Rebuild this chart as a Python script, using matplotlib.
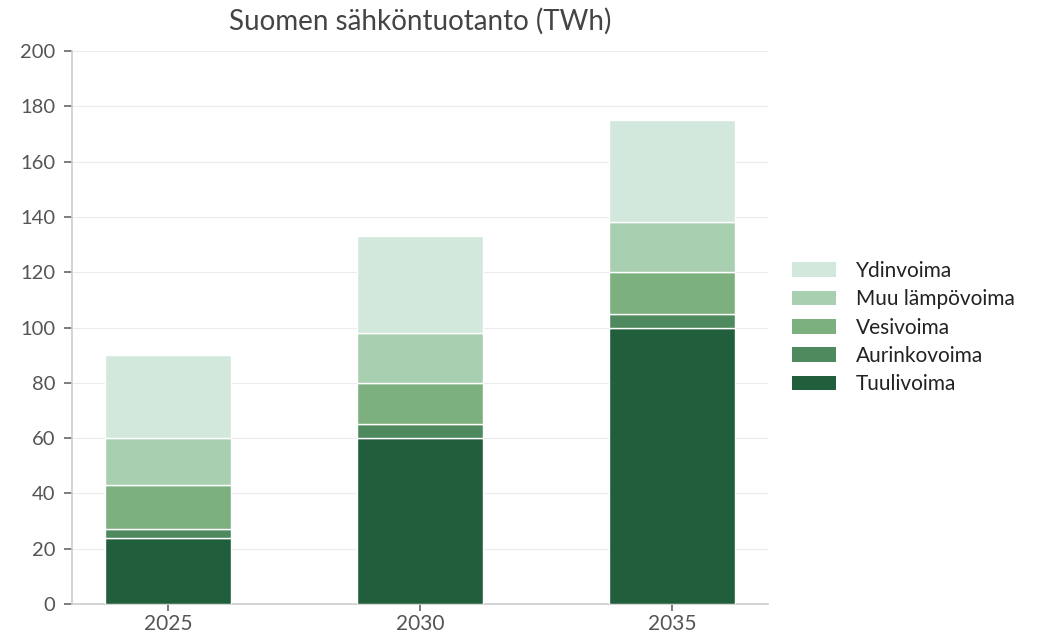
import matplotlib
matplotlib.use("Agg")
import matplotlib.pyplot as plt
import numpy as np
from matplotlib.patches import Patch

plt.rcParams['font.family'] = ['Lato', 'DejaVu Sans']

years = ["2025", "2030", "2035"]
series_names = ["Tuulivoima", "Aurinkovoima", "Vesivoima", "Muu lämpövoima", "Ydinvoima"]
tuulivoima = [24, 60, 100]
aurinkovoima = [3, 5, 5]
vesivoima = [16, 15, 15]
muu_lampovoima = [17, 18, 18]
ydinvoima = [30, 35, 37]
colors = ["#215e3b", "#4e8a5e", "#7db07f", "#a8cfb0", "#d3e8dc"]

data = [tuulivoima, aurinkovoima, vesivoima, muu_lampovoima, ydinvoima]

fig = plt.figure(figsize=(10.38, 6.41), dpi=100)
ax = fig.add_axes([0.0694, 0.0577, 0.6705, 0.8627])

x = np.arange(len(years))
bottom = np.zeros(len(years))
for name, vals, c in zip(series_names, data, colors):
    ax.bar(x, vals, width=0.5, bottom=bottom, color=c, edgecolor="white",
           linewidth=1.0, label=name, zorder=3)
    bottom += np.array(vals)

ax.set_xlim(-0.38, 2.38)
ax.set_ylim(0, 200)
ax.set_yticks(range(0, 201, 20))
ax.set_xticks(x)
ax.set_xticklabels(years)
ax.grid(axis="y", color="#ececec", linewidth=0.8, zorder=0)
for s in ["top", "right"]:
    ax.spines[s].set_visible(False)
for s in ["left", "bottom"]:
    ax.spines[s].set_color("#cccccc")
    ax.spines[s].set_linewidth(1.2)
ax.tick_params(axis="y", colors="#666666", labelsize=14.5, length=6, width=1.2, pad=6)
ax.tick_params(axis="x", colors="#666666", labelsize=15, length=5, width=1.2, pad=2)
for lbl in ax.get_xticklabels() + ax.get_yticklabels():
    lbl.set_color("#555555")

ax.set_title("Suomen sähköntuotanto (TWh)", fontsize=20, color="#444444", pad=15)

handles = [Patch(facecolor=c, edgecolor="none", label=n) for n, c in zip(series_names, colors)][::-1]
fig.legend(handles=handles, loc="center left", bbox_to_anchor=(0.745, 0.489),
           frameon=False, fontsize=15, handlelength=2.1, handleheight=0.7,
           labelspacing=0.40, handletextpad=0.95, labelcolor="#222222")

fig.savefig("out.png", dpi=100)
